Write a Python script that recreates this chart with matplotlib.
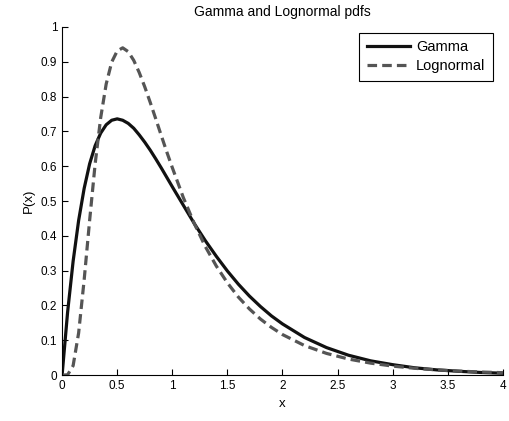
import matplotlib
matplotlib.use("Agg")
import matplotlib.pyplot as plt

plt.rcParams['font.family'] = ['Liberation Sans', 'DejaVu Sans']

# values
x_vals = [0, 0.05, 0.1, 0.15, 0.2, 0.25, 0.3, 0.35, 0.4, 0.45, 0.5, 0.55, 0.6, 0.65,
          0.7, 0.75, 0.8, 0.85, 0.9, 0.95, 1.0, 1.1, 1.2, 1.3, 1.4, 1.5, 1.6, 1.7,
          1.8, 1.9, 2.0, 2.2, 2.4, 2.6, 2.8, 3.0, 3.2, 3.4, 3.6, 3.8, 4.0]
gamma_vals = [0, 0.181, 0.327, 0.444, 0.536, 0.607, 0.659, 0.695, 0.719, 0.732, 0.736,
              0.732, 0.723, 0.709, 0.690, 0.669, 0.646, 0.621, 0.595, 0.568, 0.541,
              0.488, 0.435, 0.386, 0.341, 0.299, 0.261, 0.227, 0.197, 0.170, 0.147,
              0.108, 0.079, 0.057, 0.041, 0.030, 0.021, 0.015, 0.011, 0.0076, 0.0054]
lognormal_vals = [0, 0.0008, 0.027, 0.121, 0.273, 0.445, 0.607, 0.739, 0.836, 0.899,
                  0.931, 0.940, 0.929, 0.904, 0.869, 0.828, 0.783, 0.736, 0.688, 0.641,
                  0.596, 0.510, 0.435, 0.369, 0.313, 0.265, 0.224, 0.190, 0.161, 0.137,
                  0.1165, 0.0848, 0.0623, 0.0461, 0.0344, 0.0259, 0.0196, 0.0150,
                  0.0115, 0.0089, 0.0070]

x_ticks = [0, 0.5, 1, 1.5, 2, 2.5, 3, 3.5, 4]
y_ticks = [0, 0.1, 0.2, 0.3, 0.4, 0.5, 0.6, 0.7, 0.8, 0.9, 1]

fig = plt.figure(figsize=(5.09, 4.21), dpi=100)
ax = fig.add_axes([0.122, 0.109, 0.866, 0.827])

ax.plot(x_vals, gamma_vals, color="#111111", lw=2.3, label="Gamma")
ax.plot(x_vals, lognormal_vals, color="#555555", lw=2.3, ls=(0, (3, 1.6)), label="Lognormal")

ax.set_xlim(0, 4)
ax.set_ylim(0, 1)
ax.set_xticks(x_ticks)
ax.set_xticklabels([f"{t:g}" for t in x_ticks])
ax.set_yticks(y_ticks)
ax.set_yticklabels([f"{t:g}" for t in y_ticks])
ax.tick_params(direction="in", length=4, labelsize=8.5, width=0.8)
ax.spines["top"].set_visible(False)
ax.spines["right"].set_visible(False)

ax.set_xlabel("x", fontsize=9.5, labelpad=4)
ax.set_ylabel("P(x)", fontsize=9.5)
ax.set_title("Gamma and Lognormal pdfs", fontsize=10, pad=8)

leg = ax.legend(loc="upper right", bbox_to_anchor=(0.977, 0.983), fontsize=10.5,
                fancybox=False, framealpha=1, edgecolor="black",
                handlelength=3.0, handletextpad=0.4, borderpad=0.5, labelspacing=0.35,
                borderaxespad=0)
leg.get_frame().set_linewidth(0.8)

fig.savefig("out.png", dpi=100)
